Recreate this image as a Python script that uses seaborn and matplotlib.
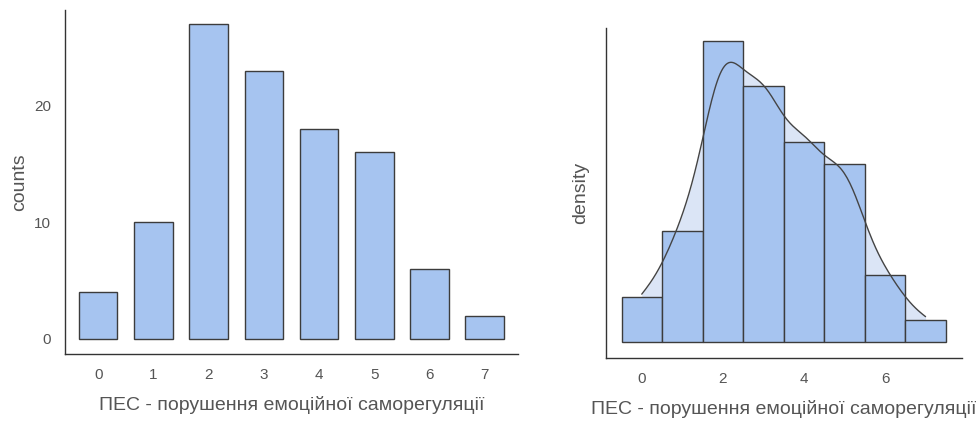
import numpy as np
import pandas as pd
import matplotlib
matplotlib.use("Agg")
import matplotlib.pyplot as plt
import seaborn as sns

# Data: scores and how many respondents got each score
scores = [0, 1, 2, 3, 4, 5, 6, 7]
counts = [4, 10, 27, 23, 18, 16, 6, 2]

x_label = "ПЕС - порушення емоційної саморегуляції"
left_ylabel = "counts"
right_ylabel = "density"
left_yticks = [0, 10, 20]
right_xticks = [0, 2, 4, 6]

bar_color = "#a6c4f0"
edge_color = "#3c3c3c"
kde_fill = "#dbe5f6"
text_color = "#555555"

df_counts = pd.DataFrame({"score": scores, "count": counts})
# raw observations rebuilt from the counts
raw = pd.DataFrame({"score": np.repeat(scores, counts)})

sns.set_style("white")
plt.rcParams["font.family"] = ["Liberation Sans", "DejaVu Sans"]

fig = plt.figure(figsize=(9.76, 4.21), dpi=100)
ax1 = fig.add_axes([0.0666, 0.159, 0.4641, 0.817])
ax2 = fig.add_axes([0.621, 0.1496, 0.3647, 0.784])

# A. Bar chart of counts
sns.barplot(data=df_counts, x="score", y="count", ax=ax1, color=bar_color,
            saturation=1, width=0.7, edgecolor=edge_color, linewidth=1)
ax1.set_xlim(-0.6, 7.6)
ax1.set_ylim(-1.3, 28.2)
ax1.set_yticks(left_yticks)
ax1.set_xlabel(x_label)
ax1.set_ylabel(left_ylabel)

# B. Density histogram with kde
sns.kdeplot(data=raw, x="score", ax=ax2, fill=True, cut=0, bw_adjust=0.84,
            color=kde_fill, alpha=1, linewidth=0, zorder=1)
sns.histplot(data=raw, x="score", ax=ax2, discrete=True, stat="density",
             color=bar_color, alpha=1, edgecolor=edge_color, linewidth=1, zorder=2)
sns.kdeplot(data=raw, x="score", ax=ax2, cut=0, bw_adjust=0.84,
            color="#444444", linewidth=1, zorder=3)
ax2.set_xlim(-0.88, 7.9)
ax2.set_ylim(-0.0136, 0.266)
ax2.set_xticks(right_xticks)
ax2.set_yticks([])
ax2.set_xlabel(x_label)
ax2.set_ylabel(right_ylabel)

for ax in (ax1, ax2):
    sns.despine(ax=ax)
    for side in ("left", "bottom"):
        ax.spines[side].set_color("#333333")
        ax.spines[side].set_linewidth(1)
    ax.tick_params(axis="both", direction="out", length=4, width=1,
                   color="#333333", labelsize=11, labelcolor=text_color, pad=6)
    ax.xaxis.label.set_size(14)
    ax.yaxis.label.set_size(14)
    ax.xaxis.label.set_color(text_color)
    ax.yaxis.label.set_color(text_color)
    ax.xaxis.labelpad = 10

ax1.yaxis.labelpad = 4
ax2.yaxis.labelpad = 12

fig.savefig("out.png", dpi=100)
